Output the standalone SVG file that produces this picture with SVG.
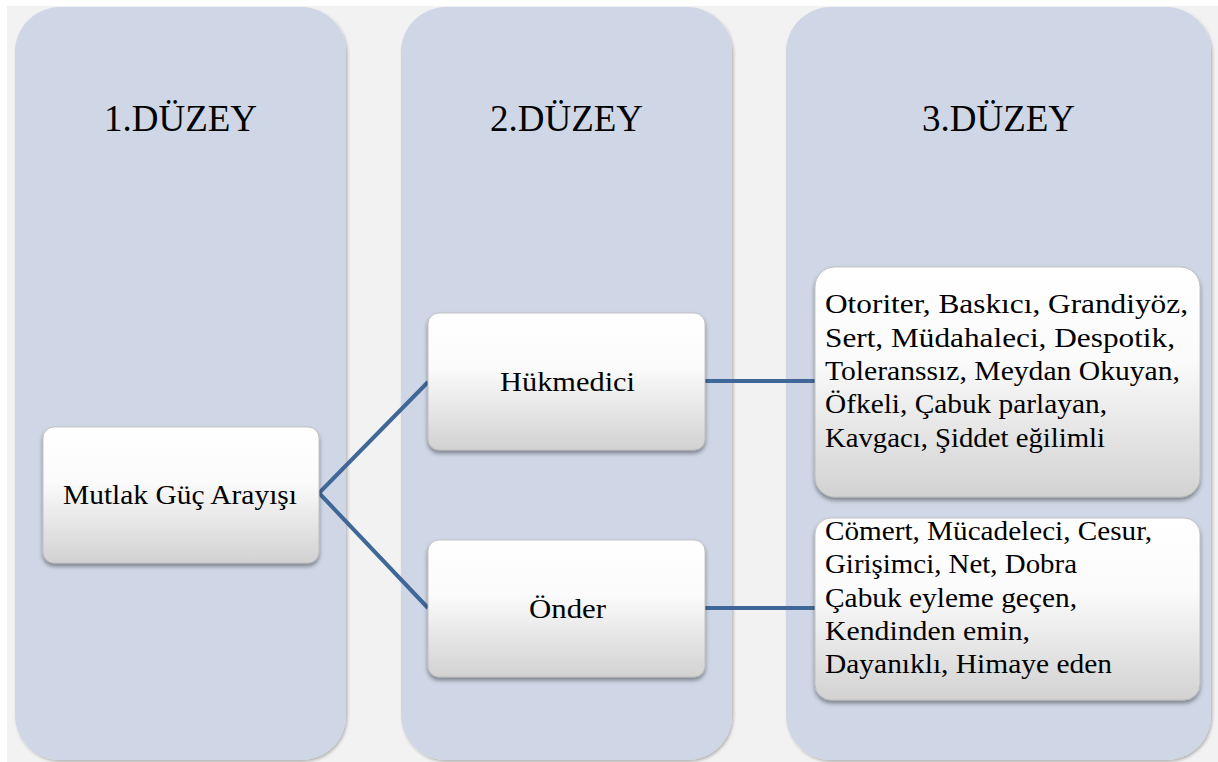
<svg xmlns="http://www.w3.org/2000/svg" width="1218" height="762" viewBox="0 0 1218 762">
<style>
.panel{fill:#cfd7e6;filter:url(#psh)}
.node{fill:url(#ng);stroke:#b8b8b8;stroke-width:0.8;filter:url(#nsh)}
.t{font-family:"Liberation Serif","Times New Roman",serif;fill:#000}
.title{font-size:37px;text-anchor:middle}
.lbl{font-size:28px;text-anchor:middle}
.body{font-size:27.5px}
.conn{stroke:#3f6797;stroke-width:4;fill:none;stroke-linejoin:miter}
</style>
<defs>
<linearGradient id="ng" x1="0" y1="0" x2="0" y2="1">
<stop offset="0" stop-color="#ffffff"/>
<stop offset="0.4" stop-color="#fbfbfb"/>
<stop offset="1" stop-color="#d2d2d2"/>
</linearGradient>
<filter id="psh" x="-5%" y="-5%" width="110%" height="110%">
<feDropShadow dx="1.5" dy="2" stdDeviation="1.5" flood-color="#000" flood-opacity="0.25"/>
</filter>
<filter id="nsh" x="-10%" y="-10%" width="120%" height="125%">
<feDropShadow dx="0" dy="3" stdDeviation="2" flood-color="#000" flood-opacity="0.4"/>
</filter>
</defs>
<rect x="0" y="0" width="1218" height="762" fill="#ffffff"/>
<rect x="7" y="6" width="1211" height="756" fill="#f2f2f2"/>
<g id="panel1"><rect class="panel" x="15" y="7" width="331" height="753" rx="45"/><text class="t title" x="180.5" y="131">1.DÜZEY</text></g>
<g id="panel2"><rect class="panel" x="401" y="7" width="331" height="753" rx="45"/><text class="t title" x="566.5" y="131">2.DÜZEY</text></g>
<g id="panel3"><rect class="panel" x="786" y="7" width="425" height="753" rx="45"/><text class="t title" x="998.5" y="131">3.DÜZEY</text></g>
<g id="connectors">
<polyline class="conn" points="428,382 319,493 428,608"/>
<line class="conn" x1="705" y1="381" x2="815" y2="381"/>
<line class="conn" x1="705" y1="608" x2="815" y2="608"/>
</g>
<g id="node-mutlak"><rect class="node" x="43" y="427" width="276" height="136" rx="11"/><text class="t lbl" x="180" y="504" textLength="234" lengthAdjust="spacingAndGlyphs">Mutlak Güç Arayışı</text></g>
<g id="node-hukmedici"><rect class="node" x="428" y="313" width="277" height="137" rx="11"/><text class="t lbl" x="567.5" y="391" textLength="135" lengthAdjust="spacingAndGlyphs">Hükmedici</text></g>
<g id="node-onder"><rect class="node" x="428" y="540" width="277" height="137" rx="11"/><text class="t lbl" x="567.5" y="618" textLength="77" lengthAdjust="spacingAndGlyphs">Önder</text></g>
<g id="node-hukmedici-traits"><rect class="node" x="815" y="267" width="385" height="230" rx="20"/>
<text class="t body" x="825" y="313" textLength="363" lengthAdjust="spacingAndGlyphs">Otoriter, Baskıcı, Grandiyöz,</text>
<text class="t body" x="825" y="347" textLength="350" lengthAdjust="spacingAndGlyphs">Sert, Müdahaleci, Despotik,</text>
<text class="t body" x="825" y="380" textLength="355" lengthAdjust="spacingAndGlyphs">Toleranssız, Meydan Okuyan,</text>
<text class="t body" x="825" y="413" textLength="282" lengthAdjust="spacingAndGlyphs">Öfkeli, Çabuk parlayan,</text>
<text class="t body" x="825" y="447" textLength="280" lengthAdjust="spacingAndGlyphs">Kavgacı, Şiddet eğilimli</text>
</g>
<g id="node-onder-traits"><rect class="node" x="815" y="518" width="385" height="182" rx="16"/>
<text class="t body" x="825" y="540" textLength="327" lengthAdjust="spacingAndGlyphs">Cömert, Mücadeleci, Cesur,</text>
<text class="t body" x="825" y="573" textLength="252" lengthAdjust="spacingAndGlyphs">Girişimci, Net, Dobra</text>
<text class="t body" x="825" y="607" textLength="252" lengthAdjust="spacingAndGlyphs">Çabuk eyleme geçen,</text>
<text class="t body" x="825" y="640" textLength="205" lengthAdjust="spacingAndGlyphs">Kendinden emin,</text>
<text class="t body" x="825" y="673" textLength="287" lengthAdjust="spacingAndGlyphs">Dayanıklı, Himaye eden</text>
</g>
</svg>
